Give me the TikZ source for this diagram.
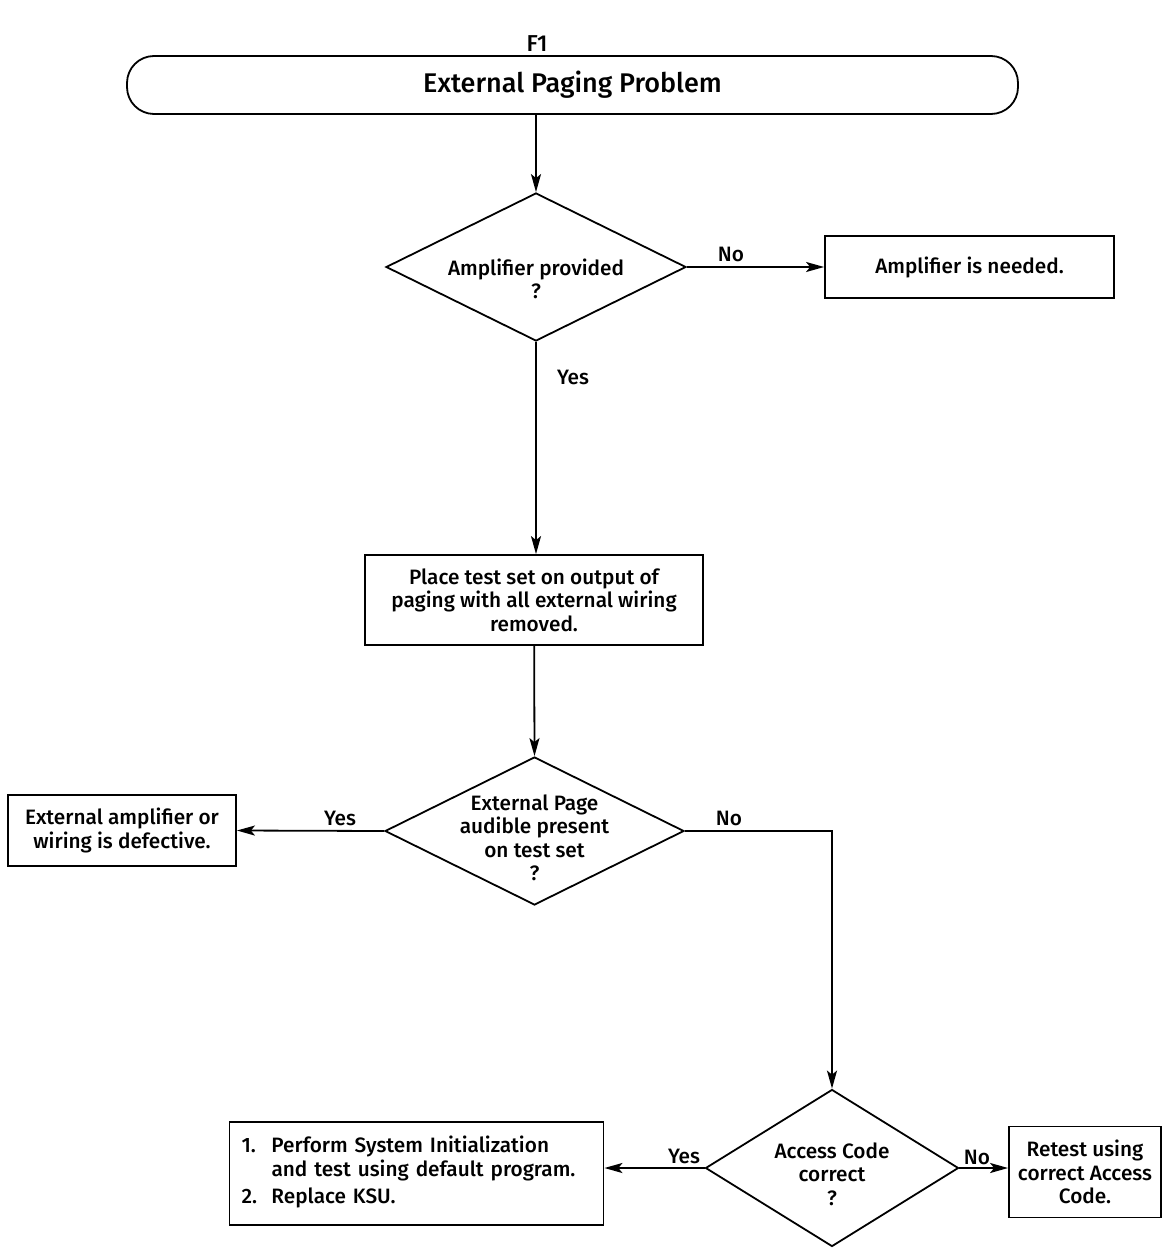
\documentclass[tikz,border=0pt]{standalone}
\usepackage{fontspec}
\setmainfont{Fira Sans}[BoldFont={Fira Sans Medium}]
\usetikzlibrary{shapes.geometric,arrows.meta}
\begin{document}
\begin{tikzpicture}[x=1pt,y=-1pt,
  every node/.style={font=\fontsize{20.8}{23.5}\selectfont\bfseries},
  box/.style={draw,line width=1.8pt,inner sep=0pt,align=center},
  decision/.style={draw,diamond,line width=1.8pt,inner sep=0pt},
  dtext/.style 2 args={label={[align=center,inner sep=0pt,yshift=-#1]center:#2}},
  flow/.style={line width=1.8pt,-{Stealth[length=18pt,width=10pt,inset=4pt]}},
  lbl/.style={inner sep=0pt}]
\useasboundingbox (0,0) rectangle (1164,1249);

\node[lbl,font=\fontsize{23}{27}\selectfont\bfseries] (title) at (537,44) {F1};
\node[box,rounded corners=27pt,minimum width=891pt,minimum height=58pt,
      font=\fontsize{27}{30}\selectfont\bfseries] (start) at (572.5,85) {External Paging Problem};

\node[decision,minimum width=300pt,minimum height=148pt,
      dtext={12pt}{Amplifier provided\\?}] (amp) at (536,267) {};
\node[box,minimum width=289pt,minimum height=62pt] (need) at (969.5,267)
  {Amplifier is needed.};
\node[box,minimum width=338pt,minimum height=90pt] (place) at (534,600)
  {Place test set on output of\\paging with all external wiring\\removed.};
\node[decision,minimum width=299pt,minimum height=148pt,
      dtext={7pt}{External Page\\audible present\\on test set\\?}] (audible) at (534.5,831) {};
\node[box,minimum width=228pt,minimum height=71pt] (defect) at (122,830.5)
  {External amplifier or\\wiring is defective.};
\node[decision,minimum width=253pt,minimum height=157pt,
      dtext={6pt}{Access Code\\correct\\?}] (code) at (832,1168) {};
\node[box,minimum width=374pt,minimum height=103pt,text width=350pt,
      inner xsep=12pt,align=left] (init) at (416.5,1173.5)
  {\begin{tabular}{@{}p{30pt}@{}l@{}}
   1. & Perform System Initialization\\
      & and test using default program.\\[4pt]
   2. & Replace KSU.
   \end{tabular}};
\node[box,minimum width=152pt,minimum height=91pt] (retest) at (1085,1172)
  {Retest using\\correct Access\\Code.};

\draw[flow] (amp.north |- start.south) -- (amp.north);
\draw[flow] (amp.east) -- (need.west);
\draw[flow] (amp.south) -- (place.north -| amp.south);
\draw[flow] (place) -- (audible.north);
\draw[flow] (audible.west) -- (defect.east);
\draw[flow] (audible.east) -| (code.north);
\draw[flow] (code.west) -- (init.east |- code.west);
\draw[flow] (code.east) -- (retest.west |- code.east);

\node[lbl] (l1) at (731,254) {No};
\node[lbl] (l2) at (573,377) {Yes};
\node[lbl] (l3) at (340,818) {Yes};
\node[lbl] (l4) at (729,818) {No};
\node[lbl] (l5) at (684,1156) {Yes};
\node[lbl] (l6) at (977,1157) {No};
\end{tikzpicture}
\end{document}
